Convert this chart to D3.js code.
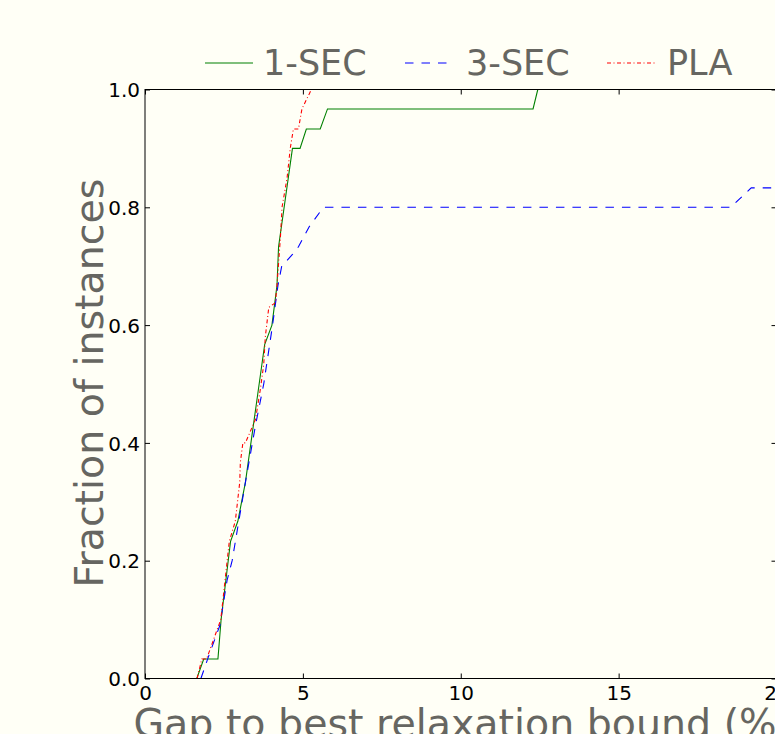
<!DOCTYPE html>
<html>
<head>
<meta charset="utf-8">
<script src="https://cdn.jsdelivr.net/npm/d3@7"></script>
<style>
  html, body { margin: 0; padding: 0; background: #fffff6; }
  svg { display: block; }
  text { font-family: "DejaVu Sans", sans-serif; }
</style>
</head>
<body>
<svg id="chart" width="775" height="734"></svg>
<script>
// ---- data ----
const seriesNames = ["1-SEC", "3-SEC", "PLA"];

const sec1X = [1.64, 1.86, 2.31, 2.41, 2.71, 2.94, 3.18, 3.79, 4.02, 4.18, 4.23, 4.67, 4.91, 5.11, 5.55, 5.78, 12.29, 12.44];
const sec1Y = [0, 0.033, 0.033, 0.1, 0.233, 0.267, 0.333, 0.567, 0.6, 0.667, 0.733, 0.9, 0.9, 0.933, 0.933, 0.967, 0.967, 1.0];

const sec3X = [1.77, 2.03, 2.37, 2.6, 2.76, 2.97, 3.18, 3.5, 3.76, 4.04, 4.21, 4.33, 4.67, 4.86, 5.2, 5.65, 18.55, 19.2, 21];
const sec3Y = [0, 0.04, 0.09, 0.167, 0.2, 0.267, 0.333, 0.43, 0.5, 0.6, 0.667, 0.7, 0.72, 0.733, 0.767, 0.8, 0.8, 0.833, 0.833];

const plaX = [1.65, 1.8, 1.95, 2.4, 2.67, 2.86, 3.0, 3.02, 3.1, 3.18, 3.5, 3.65, 3.76, 3.81, 3.92, 4.13, 4.18, 4.29, 4.34, 4.5, 4.6, 4.7, 4.86, 4.97, 5.27];
const plaY = [0, 0.033, 0.033, 0.1, 0.233, 0.267, 0.333, 0.367, 0.4, 0.4, 0.44, 0.49, 0.533, 0.58, 0.63, 0.638, 0.667, 0.75, 0.8, 0.85, 0.9, 0.933, 0.933, 0.967, 1.0];

const xTicks = [0, 5, 10, 15, 20];
const yTicks = [0, 0.2, 0.4, 0.6, 0.8, 1.0];
const xLabel = "Gap to best relaxation bound (%)";
const yLabel = "Fraction of instances";

// ---- layout ----
const svg = d3.select("#chart");
const L = 145, R = 776.5, T = 89.5, B = 678.5;
const x = d3.scaleLinear().domain([0, 20]).range([L, R]);
const y = d3.scaleLinear().domain([0, 1]).range([B, T]);

svg.append("rect").attr("width", 775).attr("height", 734).attr("fill", "#fffff6");

svg.append("defs").append("clipPath").attr("id", "plotclip")
  .append("rect").attr("x", L).attr("y", T).attr("width", R - L).attr("height", B - T);

const series = [
  { name: seriesNames[0], xs: sec1X, ys: sec1Y, color: "#008000", dash: null },
  { name: seriesNames[1], xs: sec3X, ys: sec3Y, color: "#0000ff", dash: "8.5,8" },
  { name: seriesNames[2], xs: plaX, ys: plaY, color: "#ff0000", dash: "4,2.5,1,2.5" }
];

const line = d3.line().x(d => x(d[0])).y(d => y(d[1]));
const g = svg.append("g").attr("clip-path", "url(#plotclip)");
series.forEach(s => {
  const pts = s.xs.map((v, i) => [v, s.ys[i]]);
  g.append("path").datum(pts)
    .attr("d", line)
    .attr("fill", "none")
    .attr("stroke", s.color)
    .attr("stroke-width", 1.1)
    .attr("stroke-dasharray", s.dash);
});

// ---- axes (ticks inward on all four sides) ----
const tk = 5;
const axB = svg.append("g").attr("transform", `translate(0,${B})`)
  .call(d3.axisBottom(x).tickValues(xTicks).tickSize(-tk).tickPadding(7).tickFormat(d3.format("d")));
const axT = svg.append("g").attr("transform", `translate(0,${T})`)
  .call(d3.axisTop(x).tickValues(xTicks).tickSize(-tk).tickFormat(""));
const axL = svg.append("g").attr("transform", `translate(${L},0)`)
  .call(d3.axisLeft(y).tickValues(yTicks).tickSize(-tk).tickPadding(5).tickFormat(d3.format(".1f")));
const axR = svg.append("g").attr("transform", `translate(${R},0)`)
  .call(d3.axisRight(y).tickValues(yTicks).tickSize(-tk).tickFormat(""));

[axB, axT, axL, axR].forEach(a => {
  a.select(".domain").remove();
  a.selectAll(".tick line").attr("stroke", "#000").attr("stroke-width", 1);
  a.selectAll(".tick text").attr("fill", "#000")
    .style("font-family", "DejaVu Sans").style("font-size", "20px");
});
axB.selectAll(".tick text").attr("dy", "0.71em");
axL.selectAll(".tick text").attr("dy", "0.36em");

// spines
svg.append("rect").attr("x", L).attr("y", T).attr("width", R - L).attr("height", B - T)
  .attr("fill", "none").attr("stroke", "#000").attr("stroke-width", 1);

// ---- axis labels ----
svg.append("text").attr("x", (L + R) / 2 + 2).attr("y", 737)
  .attr("text-anchor", "middle").attr("fill", "#666661")
  .style("font-size", "39.5px").text(xLabel);
svg.append("text")
  .attr("transform", `translate(103,${(T + B) / 2 - 1}) rotate(-90)`)
  .attr("text-anchor", "middle").attr("fill", "#666661")
  .style("font-size", "39.5px").text(yLabel);

// ---- legend ----
const legendPos = [
  { lx: 205, tx: 263 },
  { lx: 405, tx: 466 },
  { lx: 607, tx: 667 }
];
series.forEach((s, i) => {
  const p = legendPos[i];
  svg.append("line").attr("x1", p.lx).attr("x2", p.lx + 48).attr("y1", 63).attr("y2", 63)
    .attr("stroke", s.color).attr("stroke-width", 1.1).attr("stroke-dasharray", s.dash);
  svg.append("text").attr("x", p.tx).attr("y", 75)
    .attr("fill", "#666661").style("font-size", "35px").text(s.name);
});
</script>
</body>
</html>
